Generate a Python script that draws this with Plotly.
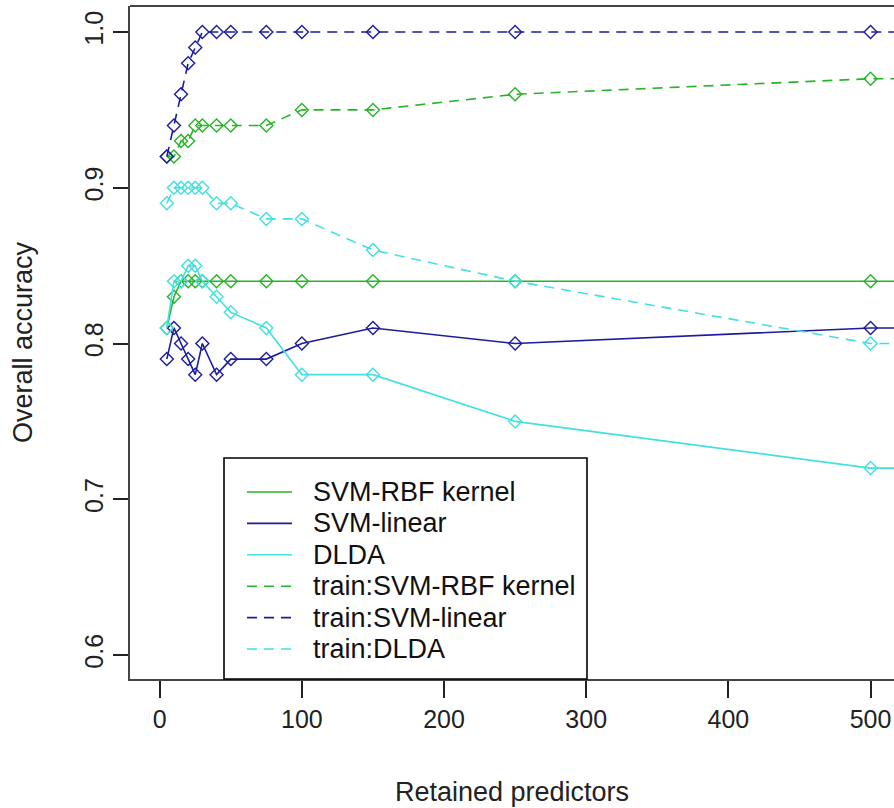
import plotly.graph_objects as go

# ---- data ----
predictors = [5, 10, 15, 20, 25, 30, 40, 50, 75, 100, 150, 250, 500, 1000]
svm_rbf = [0.81, 0.83, 0.84, 0.84, 0.84, 0.84, 0.84, 0.84, 0.84, 0.84, 0.84, 0.84, 0.84, 0.84]
svm_linear = [0.79, 0.81, 0.80, 0.79, 0.78, 0.80, 0.78, 0.79, 0.79, 0.80, 0.81, 0.80, 0.81, 0.81]
dlda = [0.81, 0.84, 0.84, 0.85, 0.85, 0.84, 0.83, 0.82, 0.81, 0.78, 0.78, 0.75, 0.72, 0.72]
train_svm_rbf = [0.92, 0.92, 0.93, 0.93, 0.94, 0.94, 0.94, 0.94, 0.94, 0.95, 0.95, 0.96, 0.97, 0.97]
train_svm_linear = [0.92, 0.94, 0.96, 0.98, 0.99, 1.00, 1.00, 1.00, 1.00, 1.00, 1.00, 1.00, 1.00, 1.00]
train_dlda = [0.89, 0.90, 0.90, 0.90, 0.90, 0.90, 0.89, 0.89, 0.88, 0.88, 0.86, 0.84, 0.80, 0.80]

x_ticks = [0, 100, 200, 300, 400, 500]
y_ticks = [0.6, 0.7, 0.8, 0.9, 1.0]

GREEN = "#26B526"
NAVY = "#1C1C9E"
CYAN = "#42E0E0"
DASH = "10px,7px"
FONT = "Liberation Sans, Arial, sans-serif"

series = [
    ("SVM-RBF kernel", svm_rbf, GREEN, "solid"),
    ("SVM-linear", svm_linear, NAVY, "solid"),
    ("DLDA", dlda, CYAN, "solid"),
    ("train:SVM-RBF kernel", train_svm_rbf, GREEN, DASH),
    ("train:SVM-linear", train_svm_linear, NAVY, DASH),
    ("train:DLDA", train_dlda, CYAN, DASH),
]

fig = go.Figure()
for name, vals, col, dash in series:
    fig.add_trace(go.Scatter(
        x=predictors, y=vals, name=name, mode="lines+markers",
        line=dict(color=col, width=1.6, dash=dash),
        marker=dict(symbol="diamond-open", size=10, color=col, line=dict(width=1.4, color=col)),
        showlegend=False, cliponaxis=True,
    ))

W, H = 894, 808
L, T, B = 130, 6, 679
R = W


def px(p):
    return (p - L) / (R - L)


def py(p):
    return (B - p) / (B - T)


shapes = []
annotations = []
# top border of plot box
shapes.append(dict(type="line", xref="paper", yref="paper", x0=0, x1=1, y0=1, y1=1,
                   line=dict(color="#444", width=2)))
# manual legend (R-style, lines only)
lx0, lx1, ly0, ly1 = 224, 587, 458, 679
shapes.append(dict(type="rect", xref="paper", yref="paper",
                   x0=px(lx0), x1=px(lx1), y0=py(ly1), y1=py(ly0),
                   line=dict(color="black", width=1.6), fillcolor="white", layer="above"))
row0, step = 492, 31.4
for i, (name, vals, col, dash) in enumerate(series):
    yy = row0 + i * step
    shapes.append(dict(type="line", xref="paper", yref="paper",
                       x0=px(247), x1=px(292), y0=py(yy), y1=py(yy),
                       line=dict(color=col, width=1.6, dash=dash), layer="above"))
    annotations.append(dict(xref="paper", yref="paper", x=px(311), y=py(yy),
                            xanchor="left", yanchor="middle", text=name, showarrow=False,
                            font=dict(family=FONT, size=27, color="#111")))

fig.update_layout(
    width=W, height=H,
    margin=dict(l=L, r=0, t=T, b=H - B, pad=0),
    paper_bgcolor="white", plot_bgcolor="white",
    font=dict(family=FONT, size=25, color="#222"),
    shapes=shapes, annotations=annotations,
    xaxis=dict(range=[-20.9, 516.5], tickvals=x_ticks, ticktext=[str(v) for v in x_ticks],
               showgrid=False, zeroline=False, showline=True, linecolor="#444", linewidth=2,
               ticks="outside", ticklen=17, tickwidth=1.5, tickcolor="#222",
               tickfont=dict(size=25),
               title=dict(text="Retained predictors", font=dict(size=27), standoff=50)),
    yaxis=dict(range=[0.5846, 1.0167], tickvals=y_ticks, ticktext=["%.1f" % v for v in y_ticks],
               showgrid=False, zeroline=False, showline=True, linecolor="#444", linewidth=2,
               ticks="outside", ticklen=15, tickwidth=1.5, tickcolor="#222",
               tickangle=-90, tickfont=dict(size=25),
               title=dict(text="Overall accuracy", font=dict(size=27), standoff=40)),
)

fig.write_html("out.html")
